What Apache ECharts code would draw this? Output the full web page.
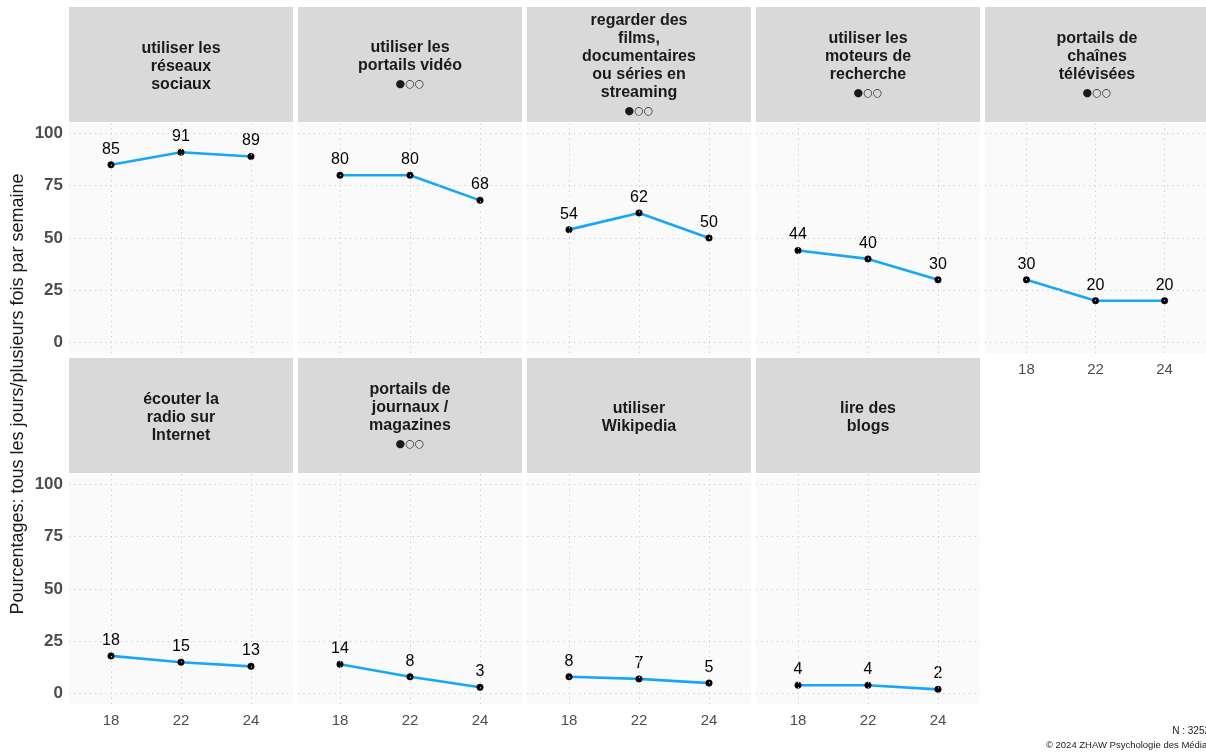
<!DOCTYPE html>
<html>
<head>
<meta charset="utf-8">
<script src="https://cdn.jsdelivr.net/npm/echarts@6/dist/echarts.min.js"></script>
<style>
html,body{margin:0;padding:0;background:#fff;}
#chart{width:1206px;height:753px;}
</style>
</head>
<body>
<div id="chart"></div>
<script>
// ---- data ----
const xLabels = ['18', '22', '24'];
const yTicks = [0, 25, 50, 75, 100];
const panelTitles = [
  'utiliser les\nréseaux\nsociaux',
  'utiliser les\nportails vidéo',
  'regarder des\nfilms,\ndocumentaires\nou séries en\nstreaming',
  'utiliser les\nmoteurs de\nrecherche',
  'portails de\nchaînes\ntélévisées',
  'écouter la\nradio sur\nInternet',
  'portails de\njournaux /\nmagazines',
  'utiliser\nWikipedia',
  'lire des\nblogs'
];
const panelDots = [false, true, true, true, true, false, true, false, false];
const reseauxSociaux = [85, 91, 89];
const portailsVideo = [80, 80, 68];
const streaming = [54, 62, 50];
const moteursRecherche = [44, 40, 30];
const chainesTV = [30, 20, 20];
const radioInternet = [18, 15, 13];
const journauxMagazines = [14, 8, 3];
const wikipedia = [8, 7, 5];
const blogs = [4, 4, 2];
const panelValues = [reseauxSociaux, portailsVideo, streaming, moteursRecherche, chainesTV,
                     radioInternet, journauxMagazines, wikipedia, blogs];
const yTitle = 'Pourcentages: tous les jours/plusieurs fois par semaine';
const noteN = 'N : 3252';
const noteCopy = '© 2024 ZHAW Psychologie des Médias';

// ---- layout ----
const FONT = '"Liberation Sans", Arial, sans-serif';
const colLeft0 = 69, colStep = 229, panelW = 224;
const stripTop = [7, 358], stripH = 115;
const plotTop = [123, 474], plotH = 230;

const chart = echarts.init(document.getElementById('chart'), null, {renderer: 'canvas'});

const grids = [], xAxes = [], yAxes = [], series = [], graphics = [];

panelValues.forEach((vals, i) => {
  const row = i < 5 ? 0 : 1;
  const col = i < 5 ? i : i - 5;
  const left = colLeft0 + col * colStep;
  const bottomRow = row === 1 || col === 4;
  grids.push({
    left: left, top: plotTop[row], width: panelW, height: plotH,
    show: true, backgroundColor: '#fafafa', borderWidth: 0, containLabel: false
  });
  xAxes.push({
    type: 'value', gridIndex: i, min: -0.6, max: 2.6,
    axisLine: {show: false}, axisTick: {show: false}, splitLine: {show: false},
    axisLabel: {
      show: bottomRow, customValues: [0, 1, 2], margin: 9,
      formatter: v => xLabels[Math.round(v)],
      fontFamily: FONT, fontSize: 15, color: '#4d4d4d'
    }
  });
  yAxes.push({
    type: 'value', gridIndex: i, min: -5, max: 105,
    axisLine: {show: false}, axisTick: {show: false}, splitLine: {show: false},
    axisLabel: {
      show: col === 0, customValues: yTicks, margin: 6,
      fontFamily: FONT, fontSize: 17, fontWeight: 'bold', color: '#4d4d4d'
    }
  });
  const pts = vals.map((v, k) => [k, v]);
  // dotted grid lines through the axis scales
  series.push({
    type: 'line', xAxisIndex: i, yAxisIndex: i, data: pts, z: 1,
    silent: true, showSymbol: false, lineStyle: {opacity: 0}, animation: false,
    markLine: {
      silent: true, symbol: 'none', animation: false, label: {show: false},
      lineStyle: {color: '#cdcdcd', width: 1, type: [1.2, 4]},
      emphasis: {disabled: true},
      data: yTicks.map(v => ({yAxis: v})).concat(xLabels.map((_, k) => ({xAxis: k})))
    }
  });
  series.push({
    type: 'line', xAxisIndex: i, yAxisIndex: i, data: pts, z: 3,
    symbol: 'circle', symbolSize: 6.5, showSymbol: true, animation: false,
    lineStyle: {color: '#18a6f7', width: 2.6},
    itemStyle: {color: '#000000', borderColor: '#000000', borderWidth: 0.5},
    label: {
      show: true, position: 'top', distance: 4,
      fontFamily: FONT, fontSize: 16, color: '#000000',
      formatter: p => Math.round(p.value[1])
    }
  });
  // strip header
  graphics.push({
    type: 'rect', silent: true, z: 0,
    shape: {x: left, y: stripTop[row], width: panelW, height: stripH},
    style: {fill: '#d9d9d9'}
  });
  const nLines = panelTitles[i].split('\n').length;
  const lh = 18;
  const blockH = nLines * lh + (panelDots[i] ? 19 : 0);
  const cy = stripTop[row] + stripH / 2 + 2;
  const topY = cy - blockH / 2;
  graphics.push({
    type: 'text', silent: true, z: 1,
    x: left + panelW / 2, y: topY,
    style: {
      text: panelTitles[i], textAlign: 'center', textVerticalAlign: 'top',
      font: 'bold 16px ' + FONT, lineHeight: lh, fill: '#1a1a1a'
    }
  });
  if (panelDots[i]) {
    graphics.push({
      type: 'text', silent: true, z: 1,
      x: left + panelW / 2, y: topY + nLines * lh + 9.5,
      style: {
        text: '●○○', textAlign: 'center', textVerticalAlign: 'middle',
        font: '11px "DejaVu Sans", ' + FONT, fill: '#1a1a1a'
      }
    });
  }
});

graphics.push({
  type: 'text', silent: true, x: 18, y: 394, rotation: Math.PI / 2,
  style: {
    text: yTitle, textAlign: 'center', textVerticalAlign: 'middle',
    font: '18px ' + FONT, fill: '#1a1a1a'
  }
});
graphics.push({
  type: 'text', silent: true, x: 1210, y: 731,
  style: {text: noteN, textAlign: 'right', textVerticalAlign: 'middle', font: '10px ' + FONT, fill: '#1a1a1a'}
});
graphics.push({
  type: 'text', silent: true, x: 1212, y: 745,
  style: {text: noteCopy, textAlign: 'right', textVerticalAlign: 'middle', font: '9.5px ' + FONT, fill: '#1a1a1a'}
});

chart.setOption({
  animation: false,
  backgroundColor: '#ffffff',
  grid: grids,
  xAxis: xAxes,
  yAxis: yAxes,
  series: series,
  graphic: {elements: graphics}
});
</script>
</body>
</html>
